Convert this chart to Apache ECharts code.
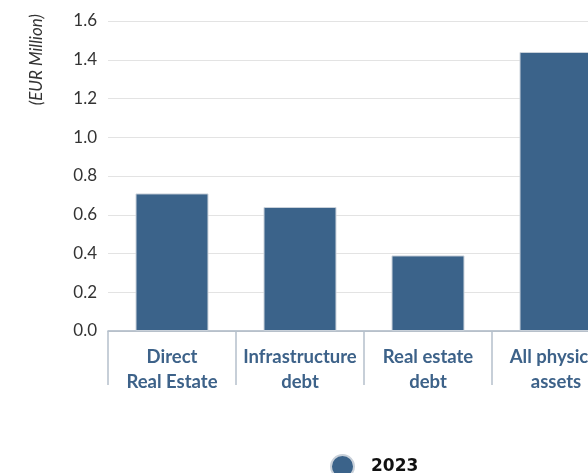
<!DOCTYPE html>
<html>
<head>
<meta charset="utf-8">
<script src="https://cdn.jsdelivr.net/npm/echarts@6/dist/echarts.min.js"></script>
<style>
  html, body { margin: 0; padding: 0; overflow: hidden; background: #fff; }
  #chart { width: 640px; height: 473px; }
</style>
</head>
<body>
<div id="chart"></div>
<script>
// Asset classes and 2023 values (EUR million)
const categories = ['Direct\nReal Estate', 'Infrastructure\ndebt', 'Real estate\ndebt', 'All physical\nassets'];
const values2023 = [0.71, 0.64, 0.39, 1.44];
const seriesName = '2023';

const barColor = '#3b638a';
const labelColor = '#3d6289';

const chart = echarts.init(document.getElementById('chart'), null, { renderer: 'canvas' });

chart.setOption({
  animation: false,
  grid: { left: 108, right: 20, top: 21, bottom: 142 },
  legend: {
    data: [seriesName],
    left: 325,
    top: 449,
    icon: 'circle',
    itemWidth: 23,
    itemHeight: 23,
    itemGap: 10,
    textStyle: {
      fontFamily: 'DejaVu Sans',
      fontWeight: 'bold',
      fontSize: 17,
      color: '#111',
      padding: [0, 0, 0, 12]
    }
  },
  graphic: [{
    type: 'text',
    left: 28,
    top: 14,
    rotation: Math.PI / 2,
    style: {
      text: '(EUR Million)',
      font: 'italic 17px Lato',
      fill: '#333'
    }
  }],
  xAxis: {
    type: 'category',
    data: categories,
    axisLine: { lineStyle: { color: '#a9b5c2', width: 1.5 } },
    axisTick: { show: true, length: 54, lineStyle: { color: '#b5c0cb', width: 1.5 } },
    axisLabel: {
      margin: 14,
      interval: 0,
      fontFamily: 'Lato',
      fontWeight: 'bold',
      fontSize: 18.5,
      lineHeight: 25,
      color: labelColor
    }
  },
  yAxis: {
    type: 'value',
    min: 0,
    max: 1.6,
    interval: 0.2,
    axisLine: { show: false },
    axisTick: { show: false },
    splitLine: { lineStyle: { color: '#e3e3e3', width: 1 } },
    axisLabel: {
      margin: 11,
      fontFamily: 'Lato',
      fontSize: 17,
      color: '#333',
      formatter: v => v.toFixed(1)
    }
  },
  series: [{
    name: seriesName,
    type: 'bar',
    data: values2023,
    barWidth: '57%',
    itemStyle: { color: barColor, borderColor: '#c9d1da', borderWidth: 1 }
  }]
});
</script>
</body>
</html>
